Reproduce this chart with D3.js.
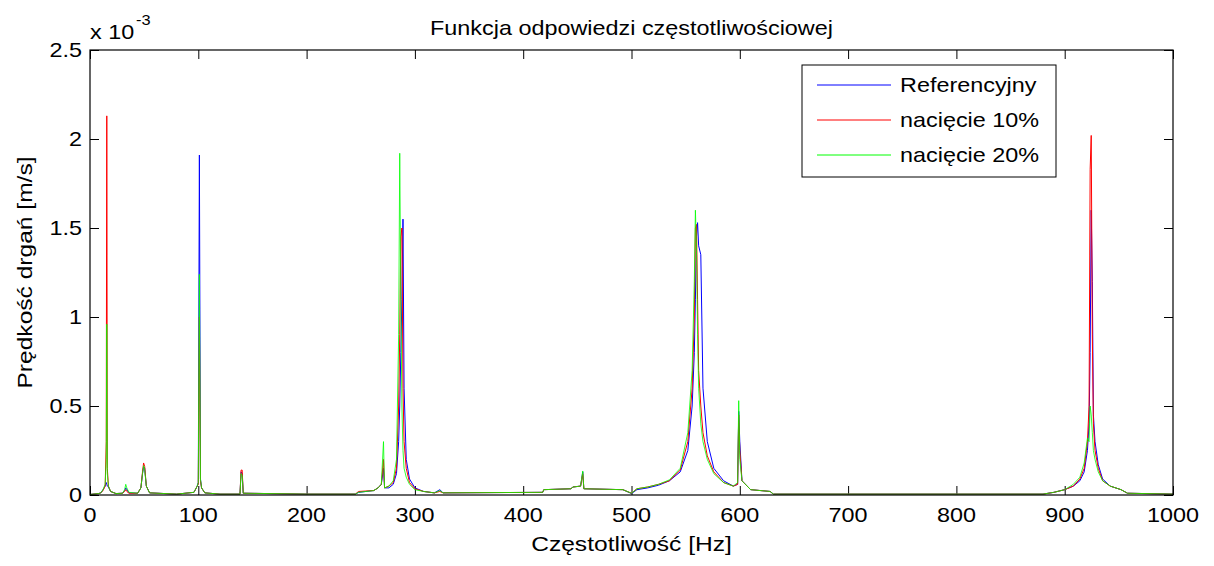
<!DOCTYPE html>
<html>
<head>
<meta charset="utf-8">
<script src="https://cdn.jsdelivr.net/npm/d3@7"></script>
<style>
  body { margin: 0; background: #fff; }
  text { font-family: "Liberation Sans", Arial, sans-serif; fill: #000; }
</style>
</head>
<body>
<div id="chart"></div>
<script>
// frequency grid [Hz]
var freq = [0, 8, 10, 12, 14, 15, 15.5, 16, 17, 19, 24, 30, 32, 33, 34, 36, 44, 47, 48.5, 49.5, 50.5, 52, 55, 80,
  96, 99, 100, 101, 102, 103, 106, 120, 138.5, 139.5, 140.5, 141.5, 200, 245, 248, 262, 266, 269, 271, 272, 276, 280,
  283, 285, 286, 287, 288, 289, 290, 292, 295, 300, 308, 318, 323, 326, 418, 419, 444, 446, 453, 455, 456, 492, 500,
  505, 515, 525, 535, 545, 552, 556, 558, 559, 560, 561, 562, 564, 566, 570, 576, 585, 594, 598, 599, 600, 602, 610,
  628, 631, 880, 890, 900, 908, 914, 918, 921, 922.5, 923.5, 924.5, 925.5, 926.5, 928, 931, 935, 942, 952, 958, 1000];

// velocity amplitude [x 10^-3 m/s]
var refValues = [0.003, 0.008, 0.012, 0.03, 0.05, 0.07, 0.06, 0.05, 0.045, 0.02, 0.008, 0.01, 0.025, 0.04, 0.03, 0.012, 0.01, 0.04, 0.12, 0.16, 0.15, 0.05, 0.012, 0.005,
  0.015, 0.05, 0.07, 1.91, 0.09, 0.04, 0.012, 0.005, 0.005, 0.13, 0.12, 0.01, 0.005, 0.005, 0.015, 0.025, 0.04, 0.06, 0.15, 0.04, 0.04, 0.06,
  0.12, 0.3, 0.5, 0.8, 1.1, 1.55, 0.6, 0.2, 0.09, 0.04, 0.02, 0.012, 0.03, 0.012, 0.015, 0.03, 0.035, 0.045, 0.05, 0.13, 0.035, 0.03, 0.008,
  0.03, 0.04, 0.055, 0.08, 0.13, 0.25, 0.5, 0.8, 1.1, 1.45, 1.53, 1.4, 1.35, 0.6, 0.3, 0.15, 0.08, 0.05, 0.06, 0.47, 0.3, 0.08, 0.03,
  0.02, 0.005, 0.005, 0.015, 0.03, 0.05, 0.08, 0.13, 0.25, 0.4, 0.8, 1.6, 1.2, 0.45, 0.3, 0.17, 0.09, 0.05, 0.03, 0.01, 0.005];

var cut10Values = [0.003, 0.008, 0.012, 0.025, 0.05, 0.3, 2.13, 0.15, 0.05, 0.02, 0.008, 0.01, 0.02, 0.03, 0.02, 0.01, 0.01, 0.04, 0.13, 0.18, 0.16, 0.05, 0.012, 0.005,
  0.015, 0.05, 0.06, 1.0, 0.08, 0.04, 0.012, 0.005, 0.005, 0.14, 0.14, 0.01, 0.005, 0.005, 0.02, 0.025, 0.04, 0.06, 0.2, 0.04, 0.05, 0.07,
  0.15, 0.5, 0.9, 1.45, 1.5, 0.6, 0.3, 0.15, 0.07, 0.035, 0.02, 0.012, 0.02, 0.012, 0.015, 0.03, 0.035, 0.045, 0.05, 0.12, 0.035, 0.03, 0.01,
  0.035, 0.045, 0.06, 0.08, 0.14, 0.3, 0.6, 1.0, 1.5, 1.52, 1.1, 0.7, 0.5, 0.35, 0.22, 0.13, 0.07, 0.05, 0.06, 0.45, 0.25, 0.08, 0.03,
  0.02, 0.005, 0.005, 0.015, 0.03, 0.05, 0.09, 0.15, 0.3, 0.5, 1.83, 2.02, 0.9, 0.4, 0.25, 0.15, 0.08, 0.05, 0.03, 0.01, 0.005];

var cut20Values = [0.003, 0.008, 0.012, 0.03, 0.06, 0.2, 0.96, 0.12, 0.05, 0.02, 0.008, 0.01, 0.03, 0.06, 0.04, 0.015, 0.01, 0.04, 0.12, 0.165, 0.14, 0.05, 0.012, 0.005,
  0.015, 0.05, 0.07, 1.24, 0.09, 0.04, 0.012, 0.005, 0.005, 0.12, 0.11, 0.01, 0.005, 0.005, 0.015, 0.025, 0.04, 0.06, 0.3, 0.04, 0.05, 0.08,
  0.2, 0.9, 1.92, 1.1, 0.5, 0.25, 0.15, 0.1, 0.06, 0.03, 0.02, 0.012, 0.025, 0.012, 0.015, 0.03, 0.035, 0.045, 0.05, 0.135, 0.035, 0.03, 0.01,
  0.035, 0.045, 0.06, 0.085, 0.15, 0.35, 0.7, 1.2, 1.6, 1.4, 0.9, 0.6, 0.4, 0.3, 0.2, 0.12, 0.07, 0.05, 0.07, 0.53, 0.2, 0.08, 0.03,
  0.02, 0.005, 0.005, 0.015, 0.03, 0.06, 0.1, 0.18, 0.32, 0.3, 0.5, 0.45, 0.35, 0.25, 0.2, 0.13, 0.08, 0.05, 0.03, 0.01, 0.005];

var seriesNames = ["Referencyjny", "nacięcie 10%", "nacięcie 20%"];
var seriesColors = ["#0000ff", "#ff0000", "#00ff00"];
var xTicks = [0, 100, 200, 300, 400, 500, 600, 700, 800, 900, 1000];
var yTicks = [0, 0.5, 1, 1.5, 2, 2.5];

var W = 1214, H = 566;
var margin = { top: 50, right: 41, bottom: 71, left: 90 },
  width = W - margin.left - margin.right,
  height = H - margin.top - margin.bottom;

var FS = 20;      // font size
var SX = 1.17;    // the original figure's text is rendered wider than Arial

var svg = d3.select("#chart").append("svg")
  .attr("width", W)
  .attr("height", H);

var xScale = d3.scaleLinear().domain([0, 1000]).range([0, width]);
var yScale = d3.scaleLinear().domain([0, 2.5]).range([height, 0]);

// stretched text helper
function label(parent, x, y, str, anchor, size, rot) {
  var g = parent.append("g")
    .attr("transform", "translate(" + x + "," + y + ")" + (rot ? " rotate(" + rot + ")" : "") + " scale(" + SX + ",1)");
  return g.append("text")
    .attr("text-anchor", anchor || "start")
    .style("font-size", (size || FS) + "px")
    .text(str);
}

var group = svg.append("g")
  .attr("transform", "translate(" + margin.left + "," + margin.top + ")");

var tickLen = 9;

// ticks on all four sides, pointing inside
group.append("g")
  .attr("transform", "translate(0," + height + ")")
  .call(d3.axisBottom(xScale).tickValues(xTicks).tickSizeInner(-tickLen).tickSizeOuter(0).tickFormat(""));
group.append("g")
  .call(d3.axisTop(xScale).tickValues(xTicks).tickSizeInner(-tickLen).tickSizeOuter(0).tickFormat(""));
group.append("g")
  .call(d3.axisLeft(yScale).tickValues(yTicks).tickSizeInner(-tickLen).tickSizeOuter(0).tickFormat(""));
group.append("g")
  .attr("transform", "translate(" + width + ",0)")
  .call(d3.axisRight(yScale).tickValues(yTicks).tickSizeInner(-tickLen).tickSizeOuter(0).tickFormat(""));
group.selectAll(".domain").remove();
group.selectAll(".tick line").attr("stroke", "#000");

// tick labels
xTicks.forEach(function (t) {
  label(group, xScale(t), height + 27, String(t), "middle");
});
yTicks.forEach(function (t) {
  label(group, -8, yScale(t) + 7, String(t), "end");
});

// series lines: reference first, green on top
var rows = freq.map(function (f, i) {
  return { f: f, v: [refValues[i], cut10Values[i], cut20Values[i]] };
});
var line = function (k) {
  return d3.line()
    .x(function (d) { return xScale(d.f); })
    .y(function (d) { return yScale(d.v[k]); });
};
[0, 1, 2].forEach(function (k) {
  group.append("path")
    .datum(rows)
    .attr("fill", "none")
    .attr("stroke", seriesColors[k])
    .attr("stroke-width", 1)
    .attr("stroke-opacity", k === 2 ? 0.8 : 1)
    .attr("d", line(k));
});

// frame
group.append("rect")
  .attr("width", width)
  .attr("height", height)
  .attr("fill", "none")
  .attr("stroke", "#000")
  .attr("stroke-width", 1.2);

// title + axis labels
label(svg, margin.left + width / 2, 35, "Funkcja odpowiedzi częstotliwościowej", "middle", 20);
label(svg, margin.left + width / 2, 551, "Częstotliwość [Hz]", "middle", 21);
label(svg, 32, margin.top + height / 2, "Prędkość drgań [m/s]", "middle", 21, -90);

// exponent marker
label(svg, 90, 39, "x 10", "start");
label(svg, 136, 25, "-3", "start", 14);

// legend
var legend = svg.append("g").attr("transform", "translate(802,65)");
legend.append("rect")
  .attr("width", 254)
  .attr("height", 112)
  .attr("fill", "#fff")
  .attr("stroke", "#000")
  .attr("stroke-width", 1);
seriesNames.forEach(function (name, i) {
  var yy = 20 + i * 35;
  legend.append("line")
    .attr("x1", 15).attr("x2", 89)
    .attr("y1", yy).attr("y2", yy)
    .attr("stroke", seriesColors[i])
    .attr("stroke-width", 1);
  label(legend, 98, yy + 7, name, "start");
});
</script>
</body>
</html>
